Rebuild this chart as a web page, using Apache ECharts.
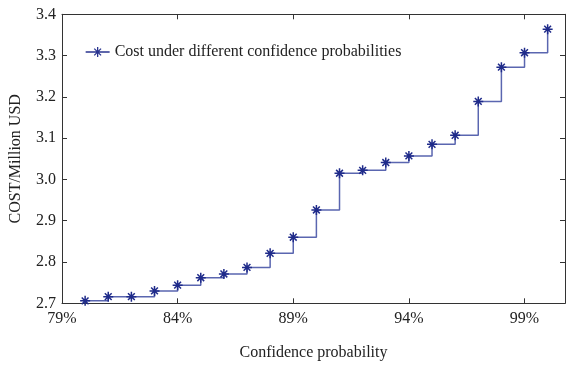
<!DOCTYPE html>
<html>
<head>
<meta charset="utf-8">
<script src="https://cdn.jsdelivr.net/npm/echarts@6/dist/echarts.min.js"></script>
<style>html,body{margin:0;padding:0;background:#fff;}#c{width:576px;height:368px;}</style>
</head>
<body>
<div id="c"></div>
<script>
const confidence = [80, 81, 82, 83, 84, 85, 86, 87, 88, 89, 90, 91, 92, 93, 94, 95, 96, 97, 98, 99, 100];
const cost = [2.706, 2.716, 2.716, 2.730, 2.744, 2.762, 2.771, 2.787, 2.821, 2.860, 2.926, 3.015, 3.022, 3.041, 3.057, 3.085, 3.107, 3.189, 3.272, 3.307, 3.364];
const xTicks = [79, 84, 89, 94, 99];
const seriesName = 'Cost under different confidence probabilities';

const font = 'Liberation Serif';
const frame = '#333';
const star = 'path://M5 0L5 10M0 5L10 5M1.6 1.6L8.4 8.4M8.4 1.6L1.6 8.4';
const legendStar = 'path://M0 5L24 5M12 0L12 10M8.6 1.6L15.4 8.4M15.4 1.6L8.6 8.4';

const chart = echarts.init(document.getElementById('c'), null, {renderer: 'canvas'});
const xBase = {
  type: 'value', min: 79, max: 100.75,
  splitLine: {show: false},
  axisLine: {show: true, lineStyle: {color: frame, width: 1}},
  axisTick: {show: true, inside: true, length: 5, customValues: xTicks, lineStyle: {color: frame}},
};
const yBase = {
  type: 'value', min: 2.7, max: 3.4, interval: 0.1,
  splitLine: {show: false},
  axisLine: {show: true, lineStyle: {color: frame, width: 1}},
  axisTick: {show: true, inside: true, length: 5, lineStyle: {color: frame}},
};
chart.setOption({
  animation: false,
  backgroundColor: '#fff',
  grid: {left: 58.3, right: 11, top: 14.3, bottom: 64.7, containLabel: false},
  legend: {
    show: true, left: 80, top: 39, itemWidth: 24, itemHeight: 10, itemGap: 4,
    textStyle: {fontFamily: font, fontSize: 16, color: '#222'},
    data: [{name: seriesName, icon: legendStar,
            itemStyle: {color: 'rgba(0,0,0,0)', borderColor: '#2a3590', borderWidth: 1.3}}]
  },
  xAxis: [
    Object.assign({}, xBase, {
      position: 'bottom',
      name: 'Confidence probability', nameLocation: 'middle', nameGap: 41,
      nameTextStyle: {fontFamily: font, fontSize: 16, color: '#222'},
      axisLabel: {show: true, customValues: xTicks, formatter: v => v + '%', fontFamily: font, fontSize: 16, color: '#222', margin: 7}
    }),
    Object.assign({}, xBase, {position: 'top', axisLabel: {show: false}})
  ],
  yAxis: [
    Object.assign({}, yBase, {
      position: 'left',
      name: 'COST/Million USD', nameLocation: 'middle', nameGap: 38,
      nameTextStyle: {fontFamily: font, fontSize: 16, color: '#222'},
      axisLabel: {show: true, formatter: v => v.toFixed(1), fontFamily: font, fontSize: 16, color: '#222', margin: 6}
    }),
    Object.assign({}, yBase, {position: 'right', axisLabel: {show: false}})
  ],
  series: [{
    name: seriesName,
    type: 'line',
    step: 'end',
    xAxisIndex: 0, yAxisIndex: 0,
    data: confidence.map((x, i) => [x, cost[i]]),
    symbol: star,
    symbolSize: 10,
    showAllSymbol: true,
    lineStyle: {color: '#5a66b0', width: 1.5},
    itemStyle: {color: 'rgba(0,0,0,0)', borderColor: '#1f2b8a', borderWidth: 1.5}
  }]
});
</script>
</body>
</html>
